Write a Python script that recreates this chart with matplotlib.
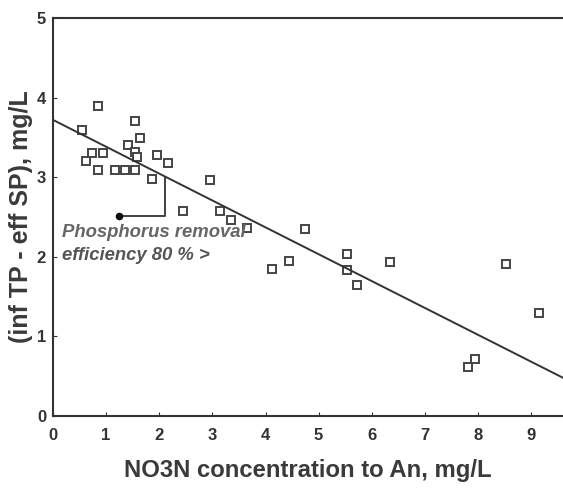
import matplotlib
matplotlib.use("Agg")
import matplotlib.pyplot as plt
import numpy as np

plt.rcParams['font.family'] = ['Liberation Sans', 'DejaVu Sans']

x_vals = [0.85, 0.54, 1.54, 1.64, 1.42, 1.54, 1.58, 1.95, 2.17, 0.73, 0.95, 0.63,
          0.85, 1.17, 1.36, 1.54, 1.86, 2.96, 2.45, 3.14, 3.35, 3.66, 4.13, 4.75,
          4.44, 5.53, 5.53, 5.72, 6.35, 8.52, 9.14, 7.95, 7.82]
y_vals = [3.89, 3.59, 3.70, 3.49, 3.40, 3.32, 3.26, 3.28, 3.18, 3.31, 3.31, 3.20,
          3.09, 3.09, 3.09, 3.09, 2.98, 2.96, 2.57, 2.57, 2.46, 2.36, 1.85, 2.35,
          1.95, 2.04, 1.83, 1.64, 1.93, 1.91, 1.30, 0.71, 0.61]

fit_intercept = 3.72
fit_slope = -0.3375
x_ticks = [0, 1, 2, 3, 4, 5, 6, 7, 8, 9]
y_ticks = [0, 1, 2, 3, 4, 5]

ink = '#333333'
fig = plt.figure(figsize=(5.63, 4.91), dpi=100)
ax = fig.add_axes([53/563, 1-416/491, (563-53)/563, (416-18)/491])

ax.plot(x_vals, y_vals, linestyle='none', marker='s', markersize=5.3,
        markerfacecolor='white', markeredgecolor='#444444', markeredgewidth=1.4)

xl = np.array([0, 9.6])
ax.plot(xl, fit_intercept + fit_slope * xl, color=ink, lw=1.4)

# bracket annotation
bx = 2.11
ax.plot([bx, bx, 1.24], [fit_intercept + fit_slope * bx, 2.51, 2.51], color=ink, lw=1.3)
ax.plot([1.24], [2.51], marker='o', color='#111111', markersize=4.5)
ax.text(0.17, 2.30, 'Phosphorus removal', style='italic', weight='bold', color='#666666',
        fontsize=13.3, va='center', ha='left')
ax.text(0.17, 2.02, 'efficiency 80 % >', style='italic', weight='bold', color='#555555',
        fontsize=13.3, va='center', ha='left')

ax.set_xlim(0, 9.6)
ax.set_ylim(0, 5)
ax.set_xticks(x_ticks)
ax.set_yticks(y_ticks)
ax.tick_params(direction='in', length=3, colors=ink, labelsize=12, pad=9)
ax.tick_params(axis='y', pad=5)
for lab in ax.get_xticklabels() + ax.get_yticklabels():
    lab.set_fontweight('bold')
for s in ['left', 'bottom', 'top']:
    ax.spines[s].set_color(ink)
    ax.spines[s].set_linewidth(1.5)
ax.spines['right'].set_visible(False)

ax.set_xlabel('NO3N concentration to An, mg/L', fontsize=17.2, weight='bold',
              color='#3a3a3a', labelpad=11)
ax.set_ylabel('(inf TP - eff SP), mg/L', fontsize=18, weight='bold',
              color='#3a3a3a', labelpad=3)

fig.savefig('out.png', dpi=100)
